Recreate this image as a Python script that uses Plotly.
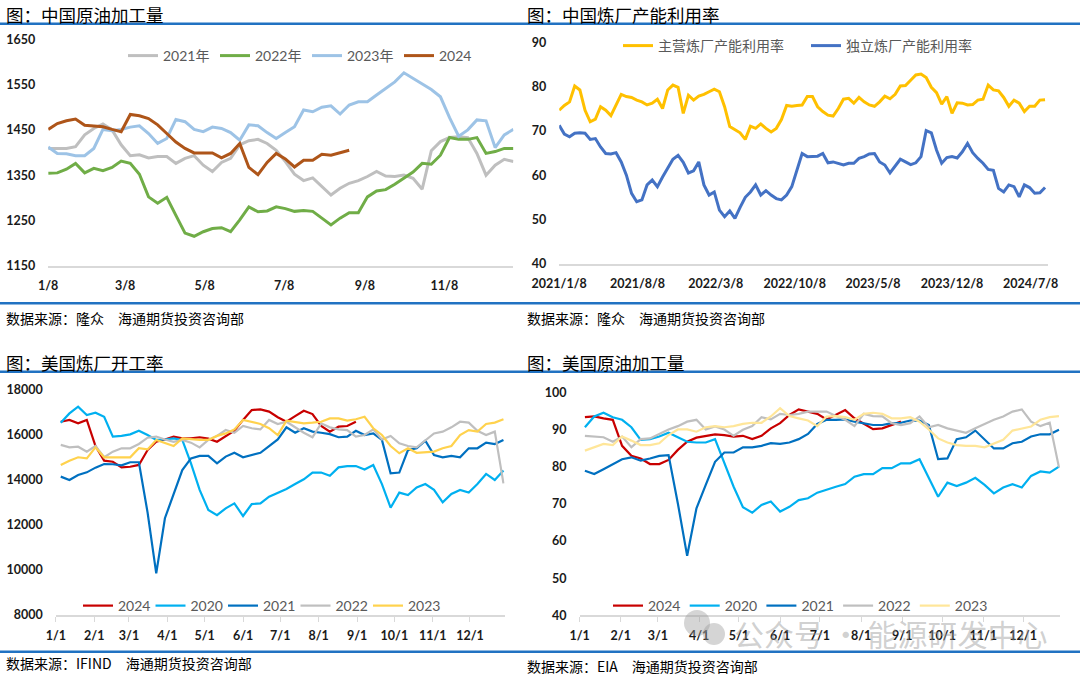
import plotly.graph_objects as go
import pandas as pd

W, H = 1080, 677

# ---------------- data ----------------
# Panel 1: China crude processing (weekly, from 1/8)
cn_start = "2001-01-08"
cn_tick_text = ["1/8", "3/8", "5/8", "7/8", "9/8", "11/8"]
cn_tick_dates = ["2001-01-08", "2001-03-08", "2001-05-08", "2001-07-08", "2001-09-08", "2001-11-08"]
cn_2021 = [1409, 1409, 1409, 1413, 1439, 1453, 1463, 1450, 1417, 1393, 1395, 1388, 1391, 1391, 1376, 1387,
           1393, 1372, 1358, 1378, 1387, 1417, 1426, 1429, 1420, 1405, 1380, 1352, 1338, 1344, 1325, 1306,
           1321, 1332, 1338, 1347, 1358, 1348, 1347, 1350, 1343, 1319, 1404, 1424, 1433, 1435, 1433, 1398,
           1350, 1372, 1385, 1380]
cn_2022 = [1354, 1355, 1363, 1376, 1355, 1365, 1360, 1367, 1381, 1376, 1352, 1302, 1288, 1301, 1261, 1222,
           1215, 1225, 1232, 1234, 1225, 1251, 1280, 1269, 1271, 1280, 1276, 1270, 1272, 1270, 1255, 1240,
           1255, 1267, 1267, 1302, 1315, 1318, 1330, 1343, 1357, 1376, 1374, 1394, 1433, 1429, 1429, 1433,
           1398, 1402, 1409, 1409]
cn_2023 = [1412, 1398, 1397, 1393, 1393, 1409, 1451, 1448, 1451, 1456, 1459, 1442, 1420, 1431, 1473, 1468,
           1451, 1446, 1456, 1453, 1444, 1427, 1461, 1459, 1444, 1431, 1444, 1457, 1494, 1490, 1500, 1503,
           1485, 1505, 1512, 1512, 1527, 1541, 1556, 1576, 1564, 1551, 1539, 1523, 1477, 1436, 1450, 1472,
           1470, 1411, 1439, 1451]
cn_2024 = [1451, 1464, 1470, 1474, 1460, 1458, 1457, 1451, 1446, 1484, 1481, 1475, 1461, 1442, 1423, 1409,
           1399, 1399, 1399, 1388, 1398, 1420, 1367, 1351, 1378, 1398, 1386, 1368, 1383, 1383, 1396, 1394,
           1399, 1405]

# Panel 2: China refinery utilisation (bi-weekly from 2021/1/8)
util_start = "2021-01-08"
util_tick_text = ["2021/1/8", "2021/8/8", "2022/3/8", "2022/10/8", "2023/5/8", "2023/12/8", "2024/7/8"]
util_tick_dates = ["2021-01-08", "2021-08-08", "2022-03-08", "2022-10-08", "2023-05-08", "2023-12-08", "2024-07-08"]
util_main = [74.7, 75.8, 76.6, 80.2, 79.3, 74.7, 72.1, 72.7, 75.5, 74.7,
             73.5, 76.1, 78.3, 77.8, 77.6, 77.0, 76.6, 75.9, 76.3, 77.2,
             75.1, 79.3, 80.4, 79.9, 74.0, 78.1, 77.0, 77.9, 78.3, 78.9,
             79.5, 78.9, 75.5, 71.0, 70.2, 69.6, 68.1, 71.1, 70.6, 71.6,
             70.6, 69.8, 70.6, 72.6, 75.8, 75.6, 75.8, 75.9, 77.8, 77.8,
             75.5, 74.4, 73.6, 73.4, 75.1, 77.2, 77.4, 76.3, 77.6, 76.6,
             75.9, 75.6, 76.6, 77.9, 77.3, 78.3, 80.2, 80.3, 81.5, 82.7,
             82.9, 82.1, 79.9, 78.7, 76.1, 77.8, 74.0, 76.4, 76.3, 75.9,
             76.0, 77.0, 77.2, 80.4, 79.3, 79.1, 77.6, 75.6, 77.0, 76.3,
             74.4, 75.6, 75.6, 77.0, 77.1]
util_indep = [71.3, 69.3, 68.7, 69.5, 69.6, 69.5, 68.1, 68.3, 66.4, 64.9,
              64.8, 65.1, 63.0, 60.0, 55.9, 54.0, 54.4, 57.8, 58.9, 57.4,
              59.6, 61.5, 63.6, 64.5, 62.9, 60.5, 61.0, 63.0, 57.8, 55.5,
              56.2, 52.1, 50.6, 51.9, 50.2, 52.7, 55.0, 56.2, 57.8, 55.5,
              56.5, 55.5, 54.7, 54.4, 55.5, 57.4, 61.3, 64.9, 64.2, 64.2,
              64.3, 64.9, 62.8, 63.0, 62.7, 62.3, 62.7, 62.7, 63.8, 64.2,
              64.8, 64.9, 63.0, 62.3, 60.5, 62.1, 63.6, 63.0, 62.4, 62.8,
              64.2, 70.1, 69.6, 65.7, 62.7, 64.0, 64.2, 63.9, 65.3, 67.2,
              65.1, 63.8, 62.7, 61.3, 61.1, 57.0, 56.2, 57.8, 57.4, 55.1,
              57.8, 57.2, 55.9, 56.0, 57.2]

# Panels 3 & 4: US (weekly)
us_start = "2001-01-05"
us_tick_text = ["1/1", "2/1", "3/1", "4/1", "5/1", "6/1", "7/1", "8/1", "9/1", "10/1", "11/1", "12/1"]
us_tick_dates = ["2001-%02d-01" % m for m in range(1, 13)]

run_2024 = [16590, 16670, 16520, 16670, 15510, 14860, 14810, 14560, 14590, 14670, 15330, 15700, 15800, 15930,
            15850, 15850, 15900, 15840, 15700, 15930, 16190, 16670, 17110, 17140, 17040, 16790, 16590, 16840,
            17080, 16930, 16400, 16150, 16370, 16400, 16590]
run_2020 = [16550, 16960, 17260, 16890, 16990, 16810, 15930, 15960, 16030, 16190, 16000, 15780, 15800, 15850,
            15780, 14740, 13560, 12670, 12440, 12740, 12960, 12400, 12930, 12960, 13260, 13440, 13600, 13820,
            14030, 14330, 14330, 14190, 14560, 14620, 14620, 14470, 14670, 13820, 12770, 13440, 13330, 13670,
            13820, 13560, 13010, 13380, 13560, 13440, 13820, 14270, 14000, 14420]
run_2021 = [14150, 14000, 14220, 14340, 14550, 14710, 14700, 14650, 14790, 14790, 12560, 9850, 12300, 13410,
            14440, 14960, 15070, 15070, 14740, 15040, 15210, 15010, 15110, 15210, 15510, 15800, 16340, 16100,
            16300, 16150, 16100, 16040, 15900, 15930, 16190, 16000, 16070, 15780, 14300, 14330, 15330, 15410,
            15750, 15110, 15010, 15070, 15010, 15410, 15410, 15660, 15600, 15780]
run_2022 = [15560, 15450, 15480, 15260, 15510, 15010, 15260, 15410, 15410, 15600, 15880, 15930, 15800, 15700,
            15780, 15660, 15450, 15780, 15960, 16220, 16100, 16400, 16300, 16250, 16670, 16490, 16590, 16340,
            16100, 15900, 16520, 16340, 16250, 16220, 15930, 16000, 16250, 15800, 15960, 15630, 15510, 15450,
            15780, 16070, 16150, 16340, 16590, 16550, 16190, 16000, 16150, 13850]
run_2023 = [14670, 14860, 15010, 14960, 15450, 15010, 15010, 15010, 15010, 15410, 15360, 15780, 15660, 15510,
            15850, 15800, 15780, 15780, 15960, 16070, 16250, 16670, 16590, 16490, 16300, 16000, 16640, 16590,
            16520, 16550, 16590, 16740, 16740, 16640, 16700, 16810, 16300, 16000, 15510, 15190, 15410, 15210,
            15230, 15260, 15410, 15510, 16000, 16220, 16150, 16490, 16550, 16700]

thru_2024 = [93.3, 93.5, 93.0, 92.6, 85.6, 82.9, 82.2, 80.7, 80.7, 81.8, 84.5, 86.7, 87.8, 88.3, 88.7, 88.5,
             88.1, 88.3, 87.4, 88.3, 90.3, 91.7, 93.9, 95.4, 94.8, 94.2, 92.7, 93.9, 95.2, 93.0, 91.5, 90.1,
             90.3, 91.2, 92.1]
thru_2020 = [90.6, 93.5, 94.5, 93.3, 92.6, 90.6, 87.2, 87.4, 88.1, 89.1, 87.9, 86.7, 86.5, 86.5, 87.4, 80.9,
             74.6, 69.1, 67.6, 69.7, 70.6, 67.9, 69.2, 71.0, 71.5, 73.0, 73.9, 74.6, 75.3, 77.3, 78.0, 78.0,
             79.6, 79.6, 80.9, 80.9, 82.0, 77.1, 71.9, 75.7, 74.8, 75.7, 77.0, 75.1, 72.8, 74.4, 75.3, 74.4,
             77.5, 78.7, 78.4, 80.0]
thru_2021 = [78.9, 78.0, 79.3, 80.7, 82.0, 82.5, 81.6, 82.2, 82.9, 83.1, 70.1, 56.0, 68.8, 75.1, 81.3, 83.8,
             83.8, 85.2, 85.2, 85.6, 86.3, 86.1, 86.5, 87.4, 88.8, 91.5, 92.6, 92.6, 92.7, 92.1, 91.7, 91.2,
             91.2, 91.7, 91.8, 92.4, 92.4, 91.2, 82.0, 82.2, 87.4, 87.9, 89.7, 87.2, 84.9, 84.9, 86.3, 86.7,
             88.1, 88.7, 88.7, 89.9]
thru_2022 = [88.3, 88.1, 87.9, 86.7, 88.1, 85.2, 87.4, 87.6, 88.8, 90.0, 90.9, 92.1, 92.6, 90.0, 90.8, 90.0,
             88.3, 89.9, 90.9, 93.3, 92.7, 94.2, 93.9, 94.2, 94.8, 94.8, 94.8, 93.6, 92.6, 90.9, 94.2, 93.6,
             93.5, 91.7, 91.2, 91.7, 93.5, 90.6, 91.2, 90.3, 89.7, 89.1, 90.3, 91.5, 92.6, 93.5, 94.8, 95.4,
             92.1, 90.9, 91.8, 79.8]
thru_2023 = [84.3, 85.2, 86.1, 85.8, 88.1, 87.0, 85.8, 85.8, 86.3, 88.5, 90.0, 90.0, 89.4, 90.6, 90.9, 90.6,
             90.9, 91.5, 91.8, 91.8, 93.5, 95.7, 93.6, 93.0, 92.4, 90.9, 93.5, 93.6, 93.3, 92.6, 94.2, 94.5,
             94.2, 93.0, 93.0, 93.3, 92.1, 90.0, 87.6, 86.5, 85.8, 85.6, 85.6, 85.2, 86.1, 87.2, 89.7, 90.3,
             90.8, 92.6, 93.3, 93.6]

# ---------------- helpers ----------------
def px(x):
    return x / W


def py(y):
    return 1 - y / H


def weekly(start, n):
    return pd.date_range(start, periods=n, freq="7D")


BLUE_RULE = "#2172C2"
TICK_FONT = dict(family="Lato, Liberation Sans, sans-serif", size=12.5, color="#1a1a1a", weight="bold")
LEG_FONT = dict(family="Lato, Noto Sans CJK SC, sans-serif", size=14, color="#595959")
CJK = "Noto Sans CJK SC, sans-serif"

fig = go.Figure()


def add(x, y, name, color, width, xa, ya, leg):
    fig.add_trace(go.Scatter(x=x, y=y, name=name, mode="lines",
                             line=dict(color=color, width=width),
                             xaxis=xa, yaxis=ya, legend=leg, hoverinfo="skip"))


# Panel 1
for vals, name, col in [(cn_2021, "2021年", "#BFBFBF"), (cn_2022, "2022年", "#70AD47"),
                        (cn_2023, "2023年", "#9DC3E6"), (cn_2024, "2024", "#AE5519")]:
    add(weekly(cn_start, len(vals)), vals, name, col, 3, "x", "y", "legend")

# Panel 2
udates = pd.date_range(util_start, periods=len(util_main), freq="14D")
add(udates, util_main, "主营炼厂产能利用率", "#FFC000", 3, "x2", "y2", "legend2")
add(udates, util_indep, "独立炼厂产能利用率", "#4472C4", 3, "x2", "y2", "legend2")

# Panel 3
for vals, name, col in [(run_2024, "2024", "#C80000"), (run_2020, "2020", "#00B0F0"),
                        (run_2021, "2021", "#0070C0"), (run_2022, "2022", "#BFBFBF"),
                        (run_2023, "2023", "#FFD24D")]:
    add(weekly(us_start, len(vals)), vals, name, col, 2.2, "x3", "y3", "legend3")

# Panel 4
for vals, name, col in [(thru_2024, "2024", "#C80000"), (thru_2020, "2020", "#00B0F0"),
                        (thru_2021, "2021", "#0070C0"), (thru_2022, "2022", "#BFBFBF"),
                        (thru_2023, "2023", "#FFE699")]:
    add(weekly(us_start, len(vals)), vals, name, col, 2.2, "x4", "y4", "legend4")


def xaxis(domain, rng, tickvals, ticktext, anchor, ticks):
    d = dict(domain=domain, range=rng, type="date", tickvals=tickvals, ticktext=ticktext,
             showgrid=False, zeroline=False, showline=True, linecolor="#D9D9D9", linewidth=1.5,
             tickfont=TICK_FONT, anchor=anchor, fixedrange=True, automargin=False)
    if ticks:
        d.update(ticks="outside", ticklen=5, tickcolor="#D9D9D9", tickwidth=1, ticklabelstandoff=3)
    else:
        d.update(ticks="", ticklabelstandoff=8)
    return d


def yaxis(domain, rng, dtick, anchor):
    return dict(domain=domain, range=rng, dtick=dtick, tick0=rng[0], showgrid=False, zeroline=False,
                showline=False, ticks="", tickfont=TICK_FONT, anchor=anchor, ticklabelstandoff=12,
                fixedrange=True, automargin=False, tickformat="d")


layout = dict(
    width=W, height=H, margin=dict(l=0, r=0, t=0, b=0, autoexpand=False),
    paper_bgcolor="white", plot_bgcolor="white", showlegend=True,
    xaxis=xaxis([px(48.2), px(513.4)], ["2001-01-08", "2001-12-31"], cn_tick_dates, cn_tick_text, "y", False),
    yaxis=yaxis([py(265.7), py(39.3)], [1150, 1650], 100, "x"),
    xaxis2=xaxis([px(559.2), px(1048)], ["2021-01-08", "2024-08-24"], util_tick_dates, util_tick_text, "y2", False),
    yaxis2=yaxis([py(263.5), py(42.7)], [40, 90], 10, "x2"),
    xaxis3=xaxis([px(55.8), px(504.7)], ["2001-01-01", "2001-12-29"], us_tick_dates, us_tick_text, "y3", True),
    yaxis3=yaxis([py(615), py(390)], [8000, 18000], 2000, "x3"),
    xaxis4=xaxis([px(579.6), px(1060.3)], ["2001-01-01", "2001-12-29"], us_tick_dates, us_tick_text, "y4", True),
    yaxis4=yaxis([py(615.3), py(392.3)], [40, 100], 10, "x4"),
)


def legend(x, y, ew):
    return dict(x=px(x), y=py(y), xanchor="left", yanchor="middle", orientation="h",
                entrywidth=ew, entrywidthmode="pixels", font=LEG_FONT, bgcolor="rgba(0,0,0,0)",
                traceorder="normal", borderwidth=0, tracegroupgap=0)


layout["legend"] = legend(123, 56, 47)
layout["legend2"] = legend(618, 46, 143)
layout["legend3"] = legend(78, 606, 27.5)
layout["legend4"] = legend(608, 606, 31.7)
fig.update_layout(**layout)

# Titles and sources
annos = [
    ("图：中国原油加工量", 5, 15, 17.5),
    ("图：中国炼厂产能利用率", 526, 15, 17.5),
    ("图：美国炼厂开工率", 5, 362.7, 17.5),
    ("图：美国原油加工量", 526, 362.7, 17.5),
    ("数据来源：隆众　海通期货投资咨询部", 5, 318.3, 14),
    ("数据来源：隆众　海通期货投资咨询部", 526, 318.3, 14),
    ("数据来源：IFIND　海通期货投资咨询部", 5, 662.7, 14),
    ("数据来源：EIA　海通期货投资咨询部", 526, 666, 14),
]
for text, x, y, size in annos:
    fig.add_annotation(text=text, x=px(x), y=py(y), xref="paper", yref="paper", xanchor="left",
                       yanchor="middle", showarrow=False, borderpad=0,
                       font=dict(family=CJK, size=size, color="#000000"))

# watermark
fig.add_annotation(text="公众号 · 能源研发中心", x=px(732), y=py(633), xref="paper", yref="paper",
                   xanchor="left", yanchor="middle", showarrow=False,
                   font=dict(family=CJK, size=30, color="rgba(150,150,150,0.45)"))
for cx, cy, r in [(697, 623, 13), (714, 634, 11)]:
    fig.add_shape(type="circle", xref="paper", yref="paper", x0=px(cx - r), x1=px(cx + r),
                  y0=py(cy + r), y1=py(cy - r), line=dict(width=0),
                  fillcolor="rgba(150,150,150,0.40)")

# blue rules
for yy in [23.7, 303.3, 371.7, 651.7]:
    fig.add_shape(type="line", xref="paper", yref="paper", x0=0, x1=1, y0=py(yy), y1=py(yy),
                  line=dict(color=BLUE_RULE, width=2.6))

fig.write_html("out.html", config={"displayModeBar": False},
               post_script="document.body.style.margin='0';document.body.style.padding='0';")
